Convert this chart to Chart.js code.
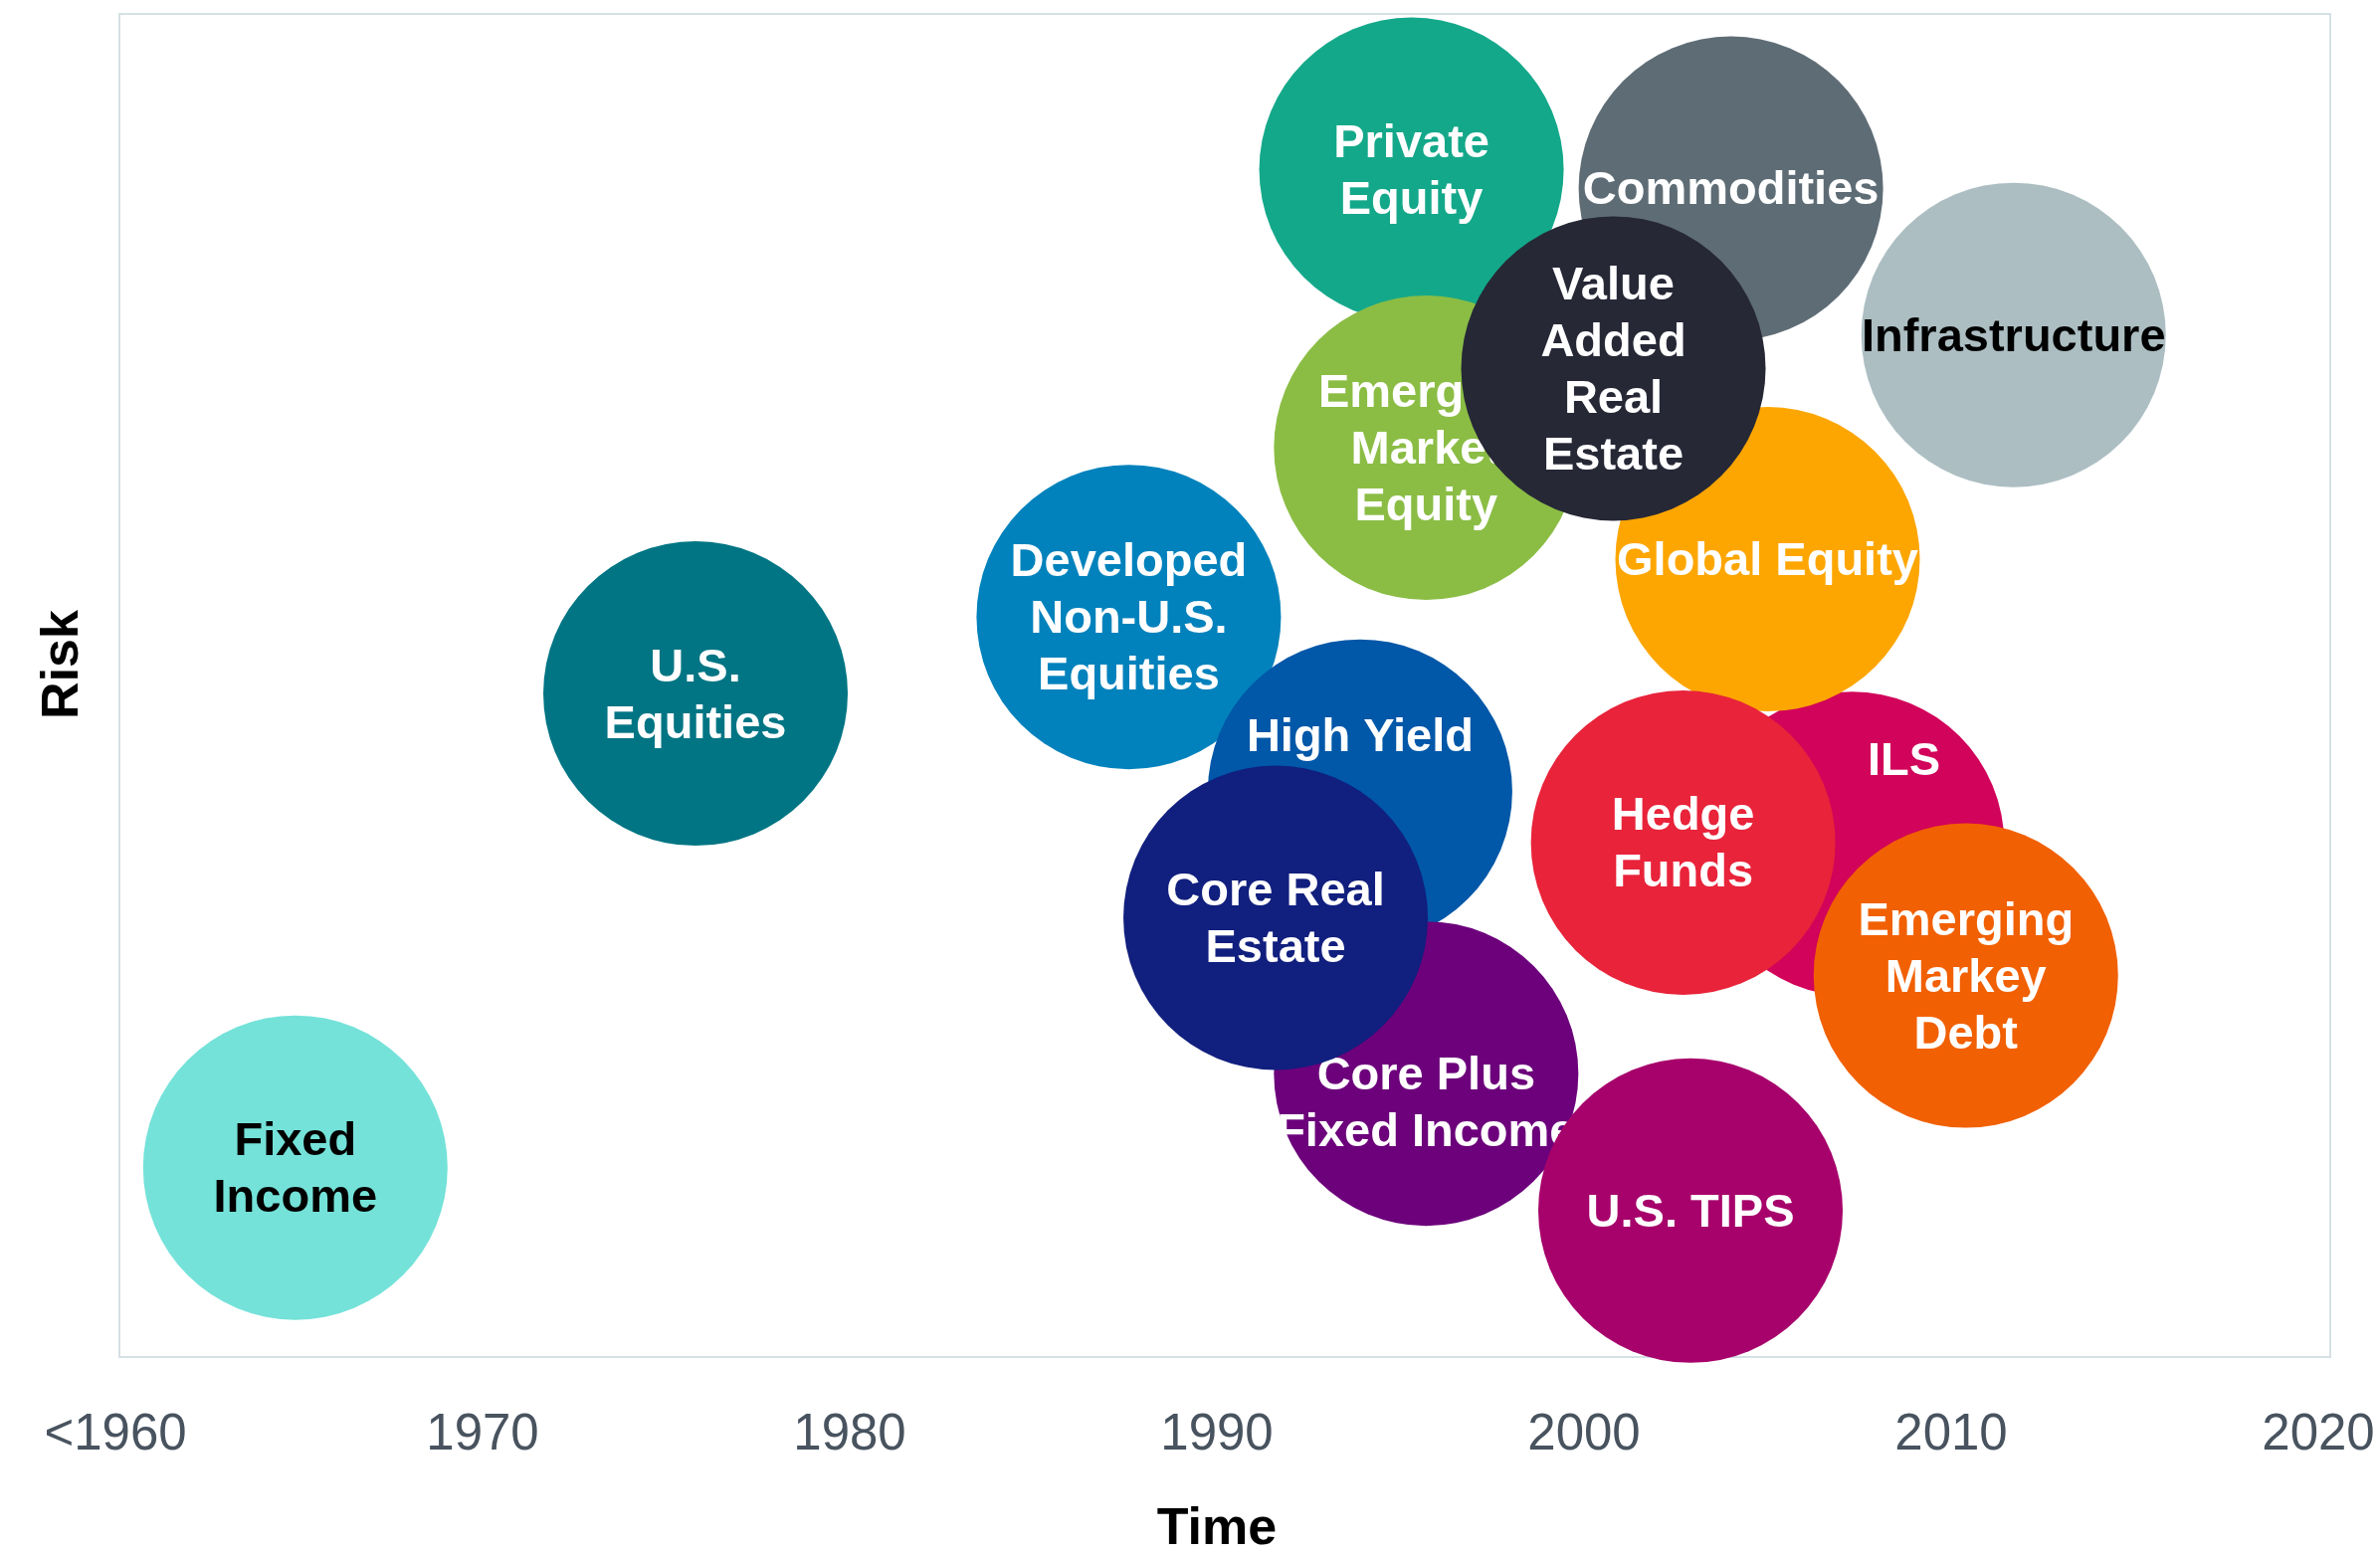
<!DOCTYPE html>
<html>
<head>
<meta charset="utf-8">
<title>Asset classes: risk over time</title>
<script src="https://cdn.jsdelivr.net/npm/chart.js@4.4.1/dist/chart.umd.min.js"></script>
<style>
  html, body { margin: 0; padding: 0; background: #fff; }
  #wrap { width: 2392px; height: 1562px; }
</style>
</head>
<body>
<div id="wrap"><canvas id="riskChart" width="2392" height="1562"></canvas></div>
<script>
// Data, listed from the bottom bubble to the top one (draw order)
const assetNames = [
  "Fixed Income", "U.S. Equities", "Developed Non-U.S. Equities", "Private Equity",
  "Commodities", "Infrastructure", "Emerging Market Equity", "ILS",
  "Global Equity", "Value Added Real Estate", "High Yield", "Core Plus Fixed Income",
  "Core Real Estate", "U.S. TIPS", "Hedge Funds", "Emerging Markey Debt"
];
// lines of each bubble label (blank lines / padding kept as in the original)
const assetLabels = [
  ["Fixed", "Income"],
  ["U.S.", "Equities"],
  ["Developed", "Non-U.S.", "Equities"],
  ["Private", "Equity"],
  ["Commodities"],
  ["Infrastructure"],
  ["Emerging", "Market", "Equity"],
  ["        ILS", "", "", ""],
  ["Global Equity"],
  ["Value", "Added", "Real", "Estate"],
  ["High Yield", "", ""],
  ["", "Core Plus", "Fixed Income"],
  ["Core Real", "Estate"],
  ["U.S. TIPS"],
  ["Hedge", "Funds"],
  ["Emerging", "Markey", "Debt"]
];
const timeValues = [1964.9, 1975.8, 1987.6, 1995.3, 2004.0, 2011.7, 1995.7, 2007.3,
                    2005.0, 2000.8, 1993.9, 1995.7, 1991.6, 2002.9, 2002.7, 2010.4];
const riskValues = [14.1, 49.4, 55.1, 88.4, 87.0, 76.1, 67.7, 38.2,
                    59.4, 73.6, 42.1, 21.1, 32.7, 10.9, 38.3, 28.4];
const bubbleColors = ["#74e2d9", "#017584", "#0282bc", "#14a88a", "#5e6c75", "#acbec2",
                      "#8bbd45", "#d2035a", "#fda601", "#262836", "#0157a8", "#6c017b",
                      "#111f7e", "#a7026b", "#e8233a", "#f16002"];
const labelColors = ["#000000", "#ffffff", "#ffffff", "#ffffff", "#ffffff", "#000000",
                     "#ffffff", "#ffffff", "#ffffff", "#ffffff", "#ffffff", "#ffffff",
                     "#ffffff", "#ffffff", "#ffffff", "#ffffff"];
const xTickLabels = ["<1960", "1970", "1980", "1990", "2000", "2010", "2020"];

const FONT = "'Liberation Sans', Arial, Helvetica, sans-serif";

// one dataset per bubble so each label is drawn right after its own bubble
const datasets = assetNames.map((name, i) => ({
  label: name,
  data: [{ x: timeValues[i], y: riskValues[i] }],
  backgroundColor: bubbleColors[i],
  borderWidth: 0,
  radius: 153,
  clip: false,
  order: assetNames.length - i
}));

const bubbleLabels = {
  id: "bubbleLabels",
  afterDatasetDraw(chart, args) {
    const pt = args.meta.data[0];
    if (!pt) return;
    const lines = assetLabels[args.index];
    const lineH = 57;
    const ctx = chart.ctx;
    ctx.save();
    ctx.font = "bold 47px " + FONT;
    ctx.fillStyle = labelColors[args.index];
    ctx.textAlign = "center";
    ctx.textBaseline = "middle";
    let y = pt.y + 3 - (lines.length - 1) * lineH / 2;
    lines.forEach((line) => {
      if (line) ctx.fillText(line, pt.x, y);
      y += lineH;
    });
    ctx.restore();
  }
};

// light frame round the plot, plus the "Risk" title (sits a little above the middle)
const plotFrame = {
  id: "plotFrame",
  beforeDatasetsDraw(chart) {
    const a = chart.chartArea;
    const ctx = chart.ctx;
    ctx.save();
    ctx.strokeStyle = "#d5e0e4";
    ctx.lineWidth = 2;
    ctx.strokeRect(a.left + 4, a.top, a.right + 12 - (a.left + 4), a.bottom - a.top);

    ctx.translate(64, (a.top + a.bottom) / 2 - 21);
    ctx.rotate(-Math.PI / 2);
    ctx.font = "bold 52px " + FONT;
    ctx.fillStyle = "#000";
    ctx.textAlign = "center";
    ctx.textBaseline = "middle";
    ctx.fillText("Risk", 0, 0);
    ctx.restore();
  }
};

new Chart(document.getElementById("riskChart").getContext("2d"), {
  type: "bubble",
  data: { datasets: datasets },
  plugins: [plotFrame, bubbleLabels],
  options: {
    responsive: false,
    animation: false,
    events: [],
    devicePixelRatio: 1,
    layout: {
      autoPadding: false,
      padding: { top: 14, right: 62, left: 0, bottom: 0 }
    },
    plugins: {
      legend: { display: false },
      tooltip: { enabled: false }
    },
    scales: {
      x: {
        type: "linear",
        min: 1960,
        max: 2020,
        grid: { display: false, drawTicks: false },
        border: { display: false },
        ticks: {
          stepSize: 10,
          padding: 48,
          color: "#48535f",
          font: { family: FONT, size: 51, lineHeight: 1.2 },
          callback: (value, index) => xTickLabels[index]
        },
        title: {
          display: true,
          text: "Time",
          color: "#000",
          font: { family: FONT, size: 52, weight: "bold", lineHeight: 1 },
          padding: { top: 0, bottom: -2 }
        },
        afterFit(scale) {
          scale.height = 198;
          scale.paddingLeft = 0;
          scale.paddingRight = 0;
        }
      },
      y: {
        type: "linear",
        min: 0,
        max: 100,
        grid: { display: false, drawTicks: false },
        border: { display: false },
        ticks: { display: false },
        title: { display: false },
        afterFit(scale) {
          scale.width = 116;
          scale.paddingTop = 0;
          scale.paddingBottom = 0;
        }
      }
    }
  }
});
</script>
</body>
</html>
